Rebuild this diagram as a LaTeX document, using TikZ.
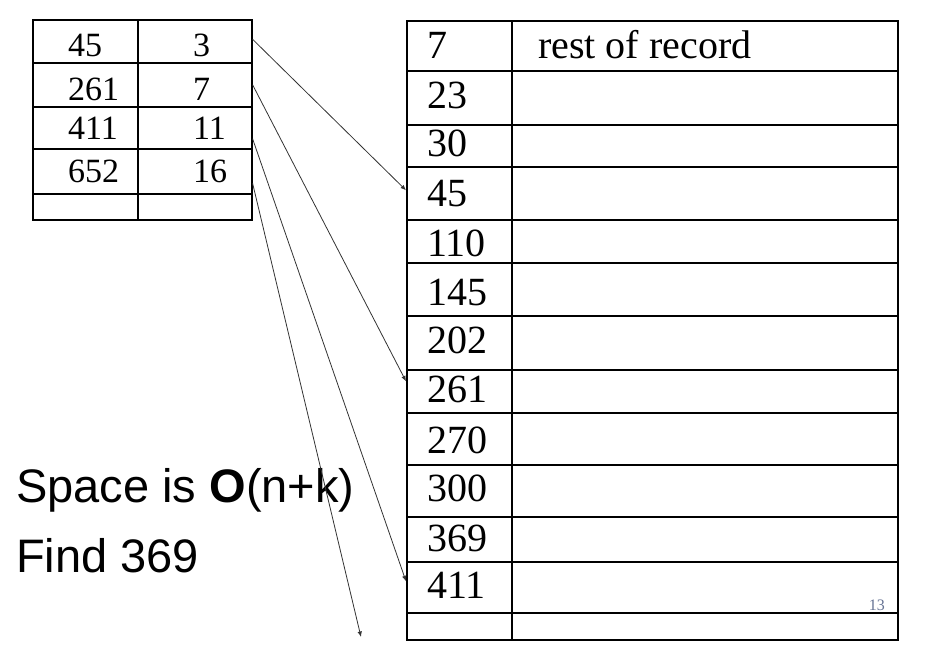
\documentclass[tikz,border=0pt]{standalone}
\usepackage{fontspec}
\setmainfont{Liberation Serif}
\newfontfamily\arialf{Liberation Sans}
\usetikzlibrary{arrows.meta}
\definecolor{pagenum}{rgb}{0.4,0.45,0.58}
\tikzset{
  cell/.style={draw=black, line width=1.6pt, inner sep=0pt, anchor=north west},
  smalltxt/.style={inner sep=0pt, anchor=base west, font=\fontsize{34}{36}\selectfont},
  bigtxt/.style={inner sep=0pt, anchor=base west, font=\fontsize{40}{44}\selectfont},
  sanstxt/.style={inner sep=0pt, anchor=base west, font=\arialf\fontsize{47}{50}\selectfont},
  ptr/.style={draw=black!80, line width=0.8pt, -{Latex[length=5.5pt,width=4.5pt]}},
}
\begin{document}
\begin{tikzpicture}[x=1pt,y=-1pt]
\useasboundingbox (0,0) rectangle (928,668);
% small table
\foreach \r/\ya/\yb in {1/19/62,2/62/106,3/106/148,4/148/193,5/193/219}{
  \node[cell, minimum width=105pt, minimum height={(\yb-\ya)*1pt}] (sa\r) at (32,\ya) {};
  \node[cell, minimum width=114pt, minimum height={(\yb-\ya)*1pt}] (sb\r) at (137,\ya) {};
}
\foreach \r/\a/\b/\y in {1/45/3/56.7,2/261/7/100.7,3/411/11/140,4/652/16/182.7}{
  \node[smalltxt] (ta\r) at (68,\y) {\a};
  \node[smalltxt] (tb\r) at (193,\y) {\b};
}
% big table
\foreach \r/\ya/\yb in {1/20/70,2/70/124,3/124/166,4/166/219,5/219/262,6/262/315,7/315/369,8/369/412,9/412/464,10/464/516,11/516/561,12/561/612,13/612/639}{
  \node[cell, minimum width=105pt, minimum height={(\yb-\ya)*1pt}] (ba\r) at (406,\ya) {};
  \node[cell, minimum width=386pt, minimum height={(\yb-\ya)*1pt}] (bb\r) at (511,\ya) {};
}
\foreach \r/\v/\y in {1/7/59,2/23/109,3/30/157,4/45/207,5/110/257,6/145/305,7/202/353,8/261/402,9/270/453,10/300/501,11/369/551,12/411/598}{
  \node[bigtxt] (tk\r) at (427,\y) {\v};
}
\node[bigtxt] (rest) at (538,59) {rest of record};
\node[inner sep=0pt, anchor=base east, font=\fontsize{16}{17}\selectfont, text=pagenum] (pnum) at (885,610) {13};
% text
\node[sanstxt] (space) at (16,502) {Space is \textbf{O}(n+k)};
\node[sanstxt] (find) at (16,572) {Find 369};
% pointers
\coordinate (off) at (361,637);
\draw[ptr] ([yshift=2pt]sb1.east) -- ([yshift=3pt]ba4.west);
\draw[ptr] (sb2.east) -- ([yshift=10pt]ba8.west);
\draw[ptr] ([yshift=-11pt]sb3.east) -- ([yshift=6pt]ba12.west);
\draw[ptr] ([yshift=-12pt]sb4.east) -- (off);
\end{tikzpicture}
\end{document}
